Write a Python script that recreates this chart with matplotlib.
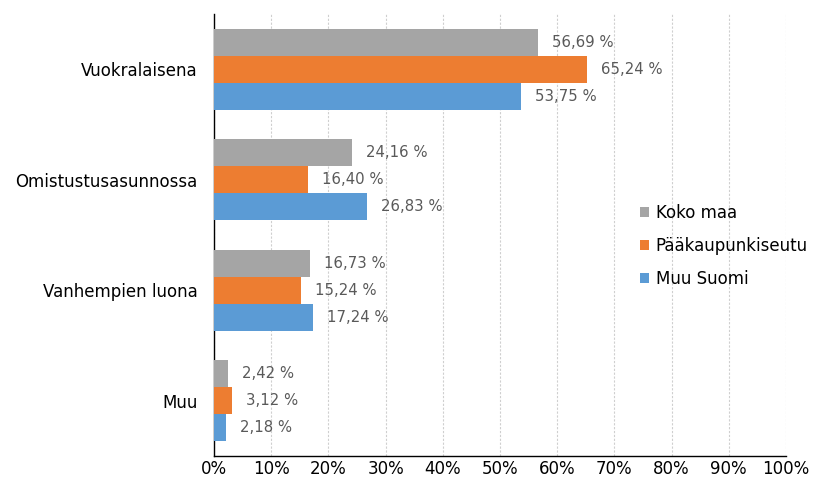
import matplotlib
matplotlib.use("Agg")
import matplotlib.pyplot as plt
import numpy as np
from matplotlib.ticker import FuncFormatter

categories = ["Vuokralaisena", "Omistustusasunnossa", "Vanhempien luona", "Muu"]
series_names = ["Koko maa", "Pääkaupunkiseutu", "Muu Suomi"]
koko_maa = [56.69, 24.16, 16.73, 2.42]
paakaupunkiseutu = [65.24, 16.40, 15.24, 3.12]
muu_suomi = [53.75, 26.83, 17.24, 2.18]
colors = ["#A5A5A5", "#ED7D31", "#5B9BD5"]

plt.rcParams['font.family'] = ['DejaVu Sans']
fig = plt.figure(figsize=(8.13, 4.86), dpi=100)
ax = fig.add_axes([214/813, 30/486, (786-214)/813, (456-14)/486])

y = np.arange(len(categories))
h = 0.243
data = [koko_maa, paakaupunkiseutu, muu_suomi]
offsets = [-h, 0, h]
for vals, off, col, name in zip(data, offsets, colors, series_names):
    bars = ax.barh(y + off, vals, height=h, color=col, label=name, zorder=3)
    for b, v in zip(bars, vals):
        ax.annotate(f"{v:.2f}".replace(".", ",") + " %",
                    xy=(v, b.get_y() + b.get_height()/2), xytext=(14, 0),
                    textcoords="offset pixels",
                    va="center", ha="left", fontsize=10.7, color="#595959")

ax.set_ylim(3.5, -0.5)
ax.set_xlim(0, 100)
ax.set_xticks(np.arange(0, 101, 10))
ax.xaxis.set_major_formatter(FuncFormatter(lambda v, p: f"{int(v)}%"))
ax.set_yticks(y)
ax.set_yticklabels(categories)
ax.tick_params(axis='both', length=0, labelsize=12, colors="#000000")
ax.tick_params(axis='x', pad=3)
ax.tick_params(axis='y', pad=12)
ax.grid(axis='x', color="#CFCFCF", linestyle=(0, (2, 1.5)), linewidth=0.8, zorder=0)
for s in ["top", "right"]:
    ax.spines[s].set_visible(False)
for s in ["left", "bottom"]:
    ax.spines[s].set_color("#000000")
    ax.spines[s].set_linewidth(1.0)

leg = ax.legend(loc="upper left", bbox_to_anchor=(419/572, 1 - (197-14)/442),
                frameon=False, fontsize=12, handlelength=0.55, handleheight=0.55,
                handletextpad=0.4, labelspacing=0.92, borderaxespad=0)

fig.savefig("out.png", dpi=100)
